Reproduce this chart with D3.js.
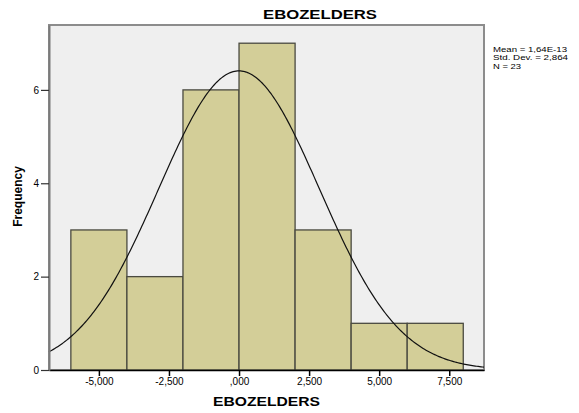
<!DOCTYPE html>
<html>
<head>
<meta charset="utf-8">
<script src="https://cdn.jsdelivr.net/npm/d3@7"></script>
<style>
body { margin: 0; background: #fff; }
text { font-family: "Liberation Sans", Arial, sans-serif; fill: #000; }
</style>
</head>
<body>
<div class="chart-container"></div>
<script>
// histogram bins (lower edges) and counts
var binStarts = [-6, -4, -2, 0, 2, 4, 6];
var binWidth = 2;
var counts = [3, 2, 6, 7, 3, 1, 1];

var yTicks = [0, 2, 4, 6];
var xTicks = [-5, -2.5, 0, 2.5, 5, 7.5];
var xTickLabels = ["-5,000", "-2,500", ",000", "2,500", "5,000", "7,500"];

var mean = 1.64e-13;
var stdDev = 2.864;
var n = 23;
var statLines = ["Mean = 1,64E-13", "Std. Dev. = 2,864", "N = 23"];
var statWidths = [74, 75, 28];

var W = 579, H = 413;
var plot = {left: 49, right: 484, top: 25, bottom: 370};

var svg = d3.select(".chart-container").append("svg")
  .attr("width", W).attr("height", H);

var x = d3.scaleLinear().domain([-6.78, 8.74]).range([plot.left, plot.right]);
var y = d3.scaleLinear().domain([0, 7.39]).range([plot.bottom, plot.top]);

// plot background
svg.append("rect")
  .attr("x", plot.left).attr("y", plot.top)
  .attr("width", plot.right - plot.left).attr("height", plot.bottom - plot.top)
  .attr("fill", "#efefef").attr("stroke", "#8c8c8c").attr("stroke-width", 2);

// bars
svg.append("g").selectAll("rect")
  .data(counts)
  .enter().append("rect")
  .attr("x", function(d, i) { return x(binStarts[i]); })
  .attr("y", function(d) { return y(d); })
  .attr("width", function(d, i) { return x(binStarts[i] + binWidth) - x(binStarts[i]); })
  .attr("height", function(d) { return y(0) - y(d); })
  .attr("fill", "#d3ce98")
  .attr("stroke", "#4a4a40")
  .attr("stroke-width", 1.3);

// normal curve from the shown mean / sd
var pts = d3.range(0, 301).map(function(k) {
  var v = x.domain()[0] + (x.domain()[1] - x.domain()[0]) * k / 300;
  var z = (v - mean) / stdDev;
  var f = n * binWidth * Math.exp(-0.5 * z * z) / (stdDev * Math.sqrt(2 * Math.PI));
  return [v, f];
});
svg.append("path")
  .datum(pts)
  .attr("fill", "none")
  .attr("stroke", "#111")
  .attr("stroke-width", 1.2)
  .attr("d", d3.line().x(function(d) { return x(d[0]); }).y(function(d) { return y(d[1]); }));

// axes
var xAxis = d3.axisBottom(x).tickValues(xTicks).tickSize(6).tickSizeOuter(0)
  .tickFormat(function(d, i) { return xTickLabels[i]; });
var gx = svg.append("g").attr("transform", "translate(0," + plot.bottom + ")").call(xAxis);
gx.select(".domain").attr("stroke", "#000").attr("stroke-width", 1.5);
gx.selectAll(".tick line").attr("stroke", "#000").attr("stroke-width", 1.5);
gx.selectAll(".tick text").attr("font-size", 10).attr("dy", null).attr("y", 15)
  .attr("font-family", "Liberation Sans, Arial, sans-serif").attr("fill", "#000");

var yAxis = d3.axisLeft(y).tickValues(yTicks).tickSize(8).tickSizeOuter(0)
  .tickFormat(d3.format("d"));
var gy = svg.append("g").attr("transform", "translate(" + plot.left + ",0)").call(yAxis);
gy.select(".domain").attr("stroke", "#7a7a7a").attr("stroke-width", 2);
gy.selectAll(".tick line").attr("stroke", "#333").attr("stroke-width", 1.2);
gy.selectAll(".tick text").attr("font-size", 10).attr("x", -10)
  .attr("font-family", "Liberation Sans, Arial, sans-serif").attr("fill", "#000");

// titles
svg.append("text")
  .attr("x", 263).attr("y", 19)
  .attr("font-size", 13).attr("font-weight", "bold")
  .attr("textLength", 114).attr("lengthAdjust", "spacingAndGlyphs")
  .text("EBOZELDERS");

svg.append("text")
  .attr("x", 213).attr("y", 406)
  .attr("font-size", 12).attr("font-weight", "bold")
  .attr("textLength", 107).attr("lengthAdjust", "spacingAndGlyphs")
  .text("EBOZELDERS");

svg.append("text")
  .attr("transform", "translate(22," + ((plot.top + plot.bottom) / 2 - 1) + ") rotate(-90)")
  .attr("text-anchor", "middle")
  .attr("font-size", 12).attr("font-weight", "bold")
  .text("Frequency");

// stats box text
svg.append("g").selectAll("text")
  .data(statLines)
  .enter().append("text")
  .attr("x", 493)
  .attr("y", function(d, i) { return 51.5 + i * 8.6; })
  .attr("font-size", 7.6)
  .attr("textLength", function(d, i) { return statWidths[i]; })
  .attr("lengthAdjust", "spacingAndGlyphs")
  .text(function(d) { return d; });
</script>
</body>
</html>
